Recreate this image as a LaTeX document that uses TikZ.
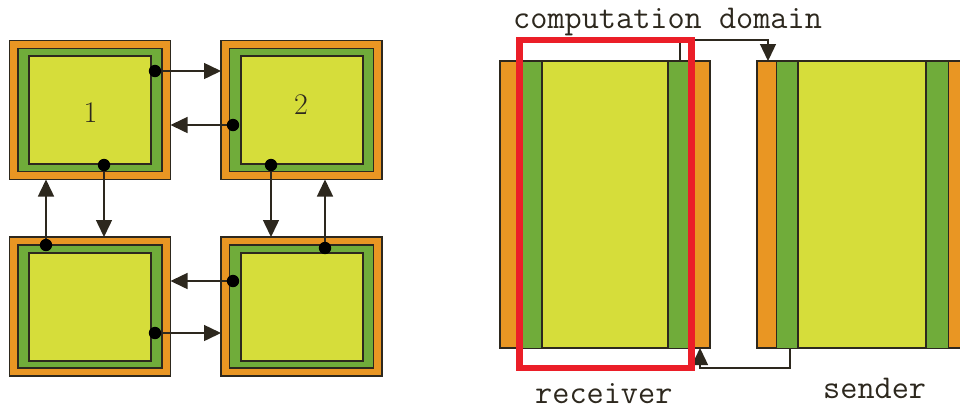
\documentclass[tikz,border=0pt]{standalone}
\usetikzlibrary{arrows.meta}
\definecolor{borange}{HTML}{E99623}
\definecolor{bgreen}{HTML}{70AC3A}
\definecolor{byellow}{HTML}{D6DD3A}
\definecolor{bdark}{HTML}{2D281E}
\definecolor{bred}{HTML}{EB1E28}
\tikzset{
  outerbox/.style={draw=bdark, line width=1.4pt, fill=borange, minimum width=161pt, minimum height=139pt, inner sep=0pt, outer sep=0pt},
  greenbox/.style={draw=bdark, line width=1.4pt, fill=bgreen, minimum width=144pt, minimum height=123pt, inner sep=0pt, outer sep=0pt},
  yellowbox/.style={draw=bdark, line width=2pt, fill=byellow, minimum width=122pt, minimum height=108pt, inner sep=0pt, outer sep=0pt},
  conn/.style={draw=bdark, line width=1.5pt, -{Triangle[length=17pt,width=16pt]}},
  conntwo/.style={draw=bdark, line width=1.3pt, -{Triangle[length=17pt,width=16pt]}},
  dotmark/.style={fill=black},
  band/.style={draw=bdark, line width=1pt},
  monotext/.style={font=\ttfamily\fontsize{33.3}{36}\selectfont, text=bdark, inner sep=0pt, anchor=base west},
  numtext/.style={font=\fontsize{30}{32}\selectfont, text=bdark, inner sep=0pt}
}
\newcommand\mygridblock[2]{%
  \node[outerbox] (#1) at (#2) {};
  \node[greenbox] (#1g) at (#1.center) {};
  \node[yellowbox] (#1y) at (#1.center) {};
}
\begin{document}
\begin{tikzpicture}[x=1pt,y=-1pt]
\useasboundingbox (0,0) rectangle (960,416);
\clip (0,0) rectangle (960,416);
% ---------- left: four blocks ----------
\mygridblock{b1}{90,110}
\mygridblock{b2}{301.5,110}
\mygridblock{b3}{90,306.5}
\mygridblock{b4}{301.5,306.5}
\node[numtext] (n1) at (90.5,112.5) {1};
\node[numtext] (n2) at (301,105) {2};
\coordinate (d1r) at (155,71);
\coordinate (d1b) at (104,165);
\coordinate (d2l) at (233,125);
\coordinate (d2b) at (271,165);
\coordinate (d3t) at (46,245);
\coordinate (d3r) at (155,333);
\coordinate (d4l) at (233,281);
\coordinate (d4t) at (325,248);
\draw[conn] (d1r) -- (d1r -| b2.west);
\draw[conn] (d2l) -- (d2l -| b1.east);
\draw[conn] (d1b) -- (d1b |- b3.north);
\draw[conn] (d3t) -- (d3t |- b1.south);
\draw[conn] (d2b) -- (d2b |- b4.north);
\draw[conn] (d4t) -- (d4t |- b2.south);
\draw[conn] (d4l) -- (d4l -| b3.east);
\draw[conn] (d3r) -- (d3r -| b4.west);
\foreach \d in {d1r,d1b,d2l,d2b,d3t,d3r,d4l,d4t} \fill[dotmark] (\d) circle (6.2);
% ---------- right: receiver and sender ----------
\node[draw=bdark, line width=1.2pt, fill=borange, minimum width=210pt, minimum height=287pt, inner sep=0pt, outer sep=0pt] (recv) at (605,204.5) {};
\draw[band, fill=bgreen] (521,61) rectangle (542,348);
\draw[band, fill=bgreen] (668,61) rectangle (689,348);
\draw[band, fill=byellow, line width=1.4pt] (542,61) rectangle (668,348);
\node[draw=bdark, line width=1.2pt, fill=borange, minimum width=210pt, minimum height=287pt, inner sep=0pt, outer sep=0pt] (send) at (862,204.5) {};
\draw[band, fill=bgreen] (776,61) rectangle (798,348);
\draw[band, fill=bgreen] (926,61) rectangle (948,348);
\draw[band, fill=byellow, line width=1.4pt] (798,61) rectangle (926,348);
\coordinate (rtop) at (680,61);
\coordinate (stop) at (768,61);
\coordinate (sbot) at (790,348);
\coordinate (rbot) at (700,348);
\draw[conntwo] (rtop) -- ++(0,-21) -| (stop);
\draw[conntwo] (sbot) -- ++(0,20) -| (rbot);
\draw[draw=bred, line width=6.5pt] (519.5,40) rectangle (691.5,368);
\node[monotext] (tdom) at (513,28) {computation domain};
\node[monotext] (trecv) at (535,403) {receiver};
\node[monotext] (tsend) at (823,398) {sender};
\end{tikzpicture}
\end{document}
